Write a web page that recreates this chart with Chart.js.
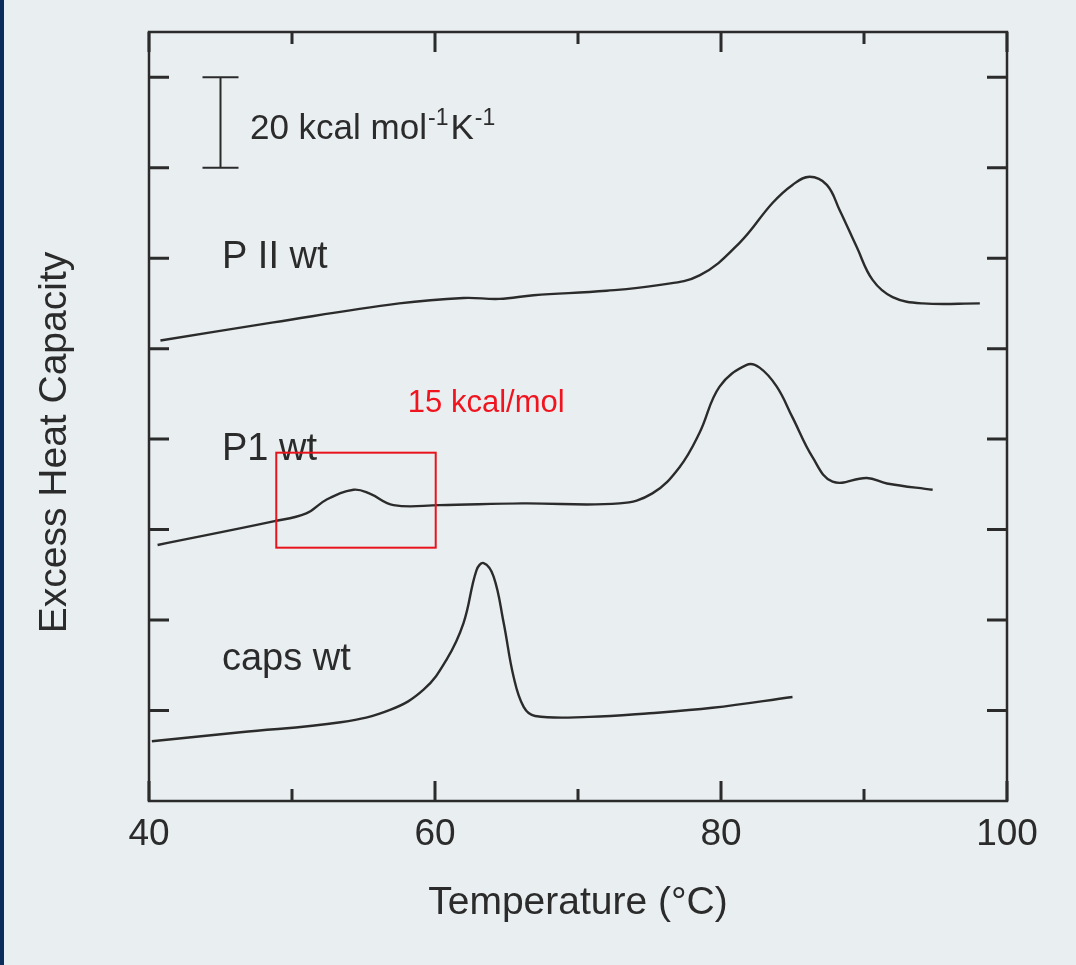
<!DOCTYPE html>
<html>
<head>
<meta charset="utf-8">
<script src="https://cdn.jsdelivr.net/npm/chart.js@4.4.1/dist/chart.umd.min.js"></script>
<style>
  html, body { margin: 0; padding: 0; background: #e9eef0; }
  canvas { display: block; }
</style>
</head>
<body>
<canvas id="dscChart" width="1076" height="965"></canvas>
<script>
// DSC traces. y is in tick units (1 tick = 20 kcal mol-1 K-1), curves offset
const pIITemp = [40.8, 48.7, 57.5, 62.0, 64.5, 66.9, 72.0, 75.5, 78.5, 81.3, 83.6, 85.0, 86.2, 87.4, 88.3, 89.5, 90.6, 92.0, 94.1, 98.1];
const pIICp   = [5.09, 5.29, 5.50, 5.56, 5.55, 5.59, 5.64, 5.70, 5.81, 6.17, 6.61, 6.81, 6.90, 6.81, 6.53, 6.12, 5.76, 5.57, 5.50, 5.50];

const p1Temp = [40.6, 48.7, 51.0, 52.4, 54.3, 55.4, 57.1, 60.3, 66.1, 72.9, 75.2, 77.1, 78.5, 79.9, 81.8, 82.7, 83.9, 85.0, 86.4, 87.8, 90.2, 91.6, 94.8];
const p1Cp   = [2.83, 3.09, 3.18, 3.33, 3.44, 3.40, 3.27, 3.27, 3.29, 3.29, 3.40, 3.69, 4.07, 4.58, 4.82, 4.79, 4.58, 4.24, 3.80, 3.53, 3.57, 3.51, 3.44];

const capsTemp = [40.2, 46.4, 53.4, 56.9, 59.2, 60.8, 62.0, 62.9, 63.4, 64.1, 64.8, 65.5, 66.2, 67.0, 70.8, 75.0, 79.4, 85.0];
const capsCp   = [0.66, 0.76, 0.87, 1.01, 1.23, 1.56, 1.97, 2.55, 2.63, 2.48, 1.97, 1.37, 1.04, 0.94, 0.93, 0.97, 1.03, 1.15];

const xMajorTicks = [40, 60, 80, 100];
const xMinorTicks = [50, 70, 90];
const yTicks = [1, 2, 3, 4, 5, 6, 7, 8];
const curveNames = ['P II wt', 'P1 wt', 'caps wt'];
const xTitle = 'Temperature (\u00B0C)';
const yTitle = 'Excess Heat Capacity';
const scaleBarText = ['20 kcal mol', '-1', 'K', '-1'];
const boxNote = '15 kcal/mol';

const ink = '#2b2b2b';
const fontFamily = "'Liberation Sans', Arial, sans-serif";

function toPoints(xs, ys) {
  return xs.map((x, i) => ({ x: x, y: ys[i] }));
}

// frame, inward ticks, labels and the hand annotations
const decorations = {
  id: 'decorations',
  beforeDraw(chart) {
    const c = chart.ctx;
    c.save();
    c.fillStyle = '#e9eef0';
    c.fillRect(0, 0, chart.width, chart.height);
    c.fillStyle = '#0b2d5c';
    c.fillRect(0, 0, 4, chart.height);
    c.restore();
  },
  afterDatasetsDraw(chart) {
    const { ctx, chartArea: a, scales: { x, y } } = chart;
    ctx.save();
    ctx.strokeStyle = ink;
    ctx.lineWidth = 2.5;
    ctx.strokeRect(a.left, a.top, a.right - a.left, a.bottom - a.top);

    ctx.lineWidth = 3;
    ctx.beginPath();
    const xTick = (v, len) => {
      const px = x.getPixelForValue(v);
      ctx.moveTo(px, a.bottom); ctx.lineTo(px, a.bottom - len);
      ctx.moveTo(px, a.top); ctx.lineTo(px, a.top + len);
    };
    xMajorTicks.forEach(v => xTick(v, 20));
    xMinorTicks.forEach(v => xTick(v, 12));
    yTicks.forEach(v => {
      const py = y.getPixelForValue(v);
      ctx.moveTo(a.left, py); ctx.lineTo(a.left + 20, py);
      ctx.moveTo(a.right, py); ctx.lineTo(a.right - 20, py);
    });
    ctx.stroke();

    // 20 kcal scale bar (one tick interval)
    const bx = x.getPixelForValue(45);
    const bTop = y.getPixelForValue(8), bBot = y.getPixelForValue(7);
    ctx.lineWidth = 2;
    ctx.beginPath();
    ctx.moveTo(bx, bTop); ctx.lineTo(bx, bBot);
    ctx.moveTo(bx - 18, bTop); ctx.lineTo(bx + 18, bTop);
    ctx.moveTo(bx - 18, bBot); ctx.lineTo(bx + 18, bBot);
    ctx.stroke();

    ctx.fillStyle = ink;
    ctx.textAlign = 'left';
    ctx.textBaseline = 'alphabetic';
    let tx = x.getPixelForValue(47.06);
    const ty = y.getPixelForValue(7.315);
    scaleBarText.forEach((s, i) => {
      const sup = i % 2 === 1;
      ctx.font = (sup ? 23 : 35) + 'px ' + fontFamily;
      ctx.fillText(s, tx, sup ? ty - 14 : ty);
      tx += ctx.measureText(s).width + (sup ? 2 : 1);
    });

    // curve names
    ctx.font = '38px ' + fontFamily;
    const nameX = x.getPixelForValue(45.1);
    [5.89, 3.77, 1.45].forEach((v, i) => ctx.fillText(curveNames[i], nameX, y.getPixelForValue(v)));

    // red box + note
    ctx.strokeStyle = '#e8141c';
    ctx.lineWidth = 2;
    const rx0 = x.getPixelForValue(48.9), rx1 = x.getPixelForValue(60.05);
    const ry0 = y.getPixelForValue(3.85), ry1 = y.getPixelForValue(2.8);
    ctx.strokeRect(rx0, ry0, rx1 - rx0, ry1 - ry0);
    ctx.fillStyle = '#f0141e';
    ctx.font = '31px ' + fontFamily;
    ctx.textBaseline = 'middle';
    ctx.fillText(boxNote, x.getPixelForValue(58.1), y.getPixelForValue(4.39));

    // y axis title
    ctx.fillStyle = ink;
    ctx.font = '39px ' + fontFamily;
    ctx.textAlign = 'center';
    ctx.translate(55, (a.top + a.bottom) / 2 + 26);
    ctx.rotate(-Math.PI / 2);
    ctx.fillText(yTitle, 0, 0);
    ctx.restore();
  }
};

const lineStyle = {
  borderColor: ink,
  borderWidth: 2.4,
  pointRadius: 0,
  fill: false,
  tension: 0.4
};

const ctx = document.getElementById('dscChart').getContext('2d');
const chart = new Chart(ctx, {
  type: 'line',
  data: {
    datasets: [
      { label: curveNames[0], data: toPoints(pIITemp, pIICp), ...lineStyle },
      { label: curveNames[1], data: toPoints(p1Temp, p1Cp), ...lineStyle },
      { label: curveNames[2], data: toPoints(capsTemp, capsCp), ...lineStyle }
    ]
  },
  options: {
    responsive: false,
    animation: false,
    layout: { padding: { top: 32, right: 69, left: 0, bottom: 0 } },
    scales: {
      x: {
        type: 'linear',
        min: 40,
        max: 100,
        afterFit: s => { s.height = 164; },
        grid: { display: false, drawTicks: false },
        border: { display: false },
        ticks: {
          stepSize: 10,
          padding: 12,
          color: ink,
          font: { family: fontFamily, size: 37 },
          callback: v => xMajorTicks.includes(v) ? String(v) : ''
        },
        title: {
          display: true,
          text: xTitle,
          color: ink,
          font: { family: fontFamily, size: 39 },
          padding: 38
        }
      },
      y: {
        min: 0,
        max: 8.5,
        afterFit: s => { s.width = 149; },
        grid: { display: false, drawTicks: false },
        border: { display: false },
        ticks: { display: false, stepSize: 1 }
      }
    },
    plugins: {
      legend: { display: false },
      tooltip: { enabled: false }
    }
  },
  plugins: [decorations]
});
</script>
</body>
</html>
